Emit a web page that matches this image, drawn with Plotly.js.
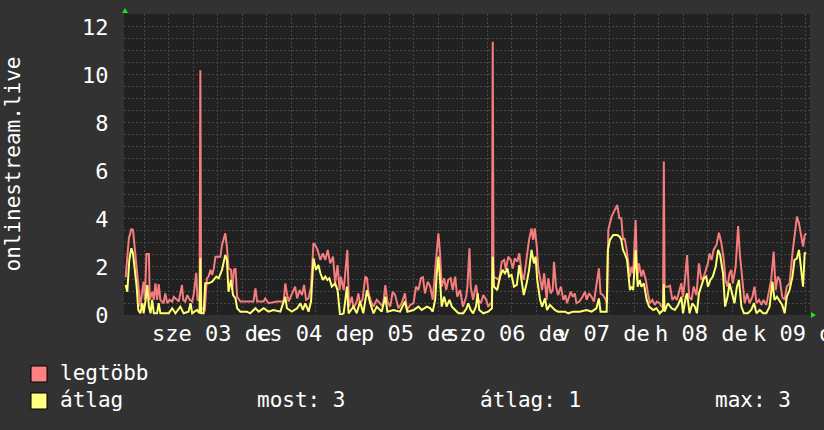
<!DOCTYPE html>
<html>
<head>
<meta charset="utf-8">
<script src="https://cdn.plot.ly/plotly-3.0.1.min.js"></script>
<style>
  html, body { margin: 0; padding: 0; background: #323232; }
  #chart { width: 824px; height: 430px; }
</style>
</head>
<body>
<div id="chart"></div>
<script>
// ---- data (hours since start of the 7-day window) ----
const maxHours = [
  0.4,1.2,1.8,2.2,2.6,3.1,3.6,4.0,4.5,4.8,
  5.1,5.5,6.1,6.3,6.9,7.3,7.7,8.1,8.5,8.9,
  9.7,10.1,10.6,11.2,11.8,12.2,13.0,13.4,13.8,14.2,
  14.5,15.0,15.5,16.1,16.7,17.1,17.7,18.0,18.5,18.7,
  18.9,19.8,20.3,20.7,21.2,21.6,22.0,22.4,23.6,24.0,
  24.8,25.2,25.6,26.2,26.5,26.9,27.3,27.7,28.5,31.7,
  32.2,32.6,34.2,34.6,35.4,37.5,39.1,39.5,39.9,40.3,
  41.9,42.4,43.0,43.6,44.1,44.6,45.2,45.8,46.4,46.8,
  47.4,48.1,48.7,49.3,49.9,50.5,51.2,51.7,52.3,52.8,
  53.1,53.8,54.4,54.7,55.1,55.8,56.2,57.0,57.4,57.8,
  58.4,59.1,59.5,59.9,60.5,61.1,61.9,62.7,63.4,64.0,
  64.5,65.2,65.8,66.4,67.2,68.0,68.8,69.3,70.1,70.9,
  71.5,72.1,72.7,73.2,73.7,74.4,75.0,75.6,76.2,76.6,
  77.0,77.4,77.8,78.4,78.9,79.4,80.0,80.5,81.1,81.6,
  82.3,83.0,83.8,84.1,84.6,84.9,85.5,86.2,86.8,87.4,
  88.0,88.7,89.2,89.8,90.1,90.3,90.5,91.4,91.9,92.5,
  93.1,93.5,94.1,94.7,95.2,95.7,96.3,96.8,97.4,97.9,
  98.6,99.2,99.8,100.2,100.6,101.1,101.4,101.9,102.4,102.9,
  103.5,103.9,104.5,105.0,105.3,105.8,106.3,107.0,107.6,108.1,
  108.5,109.4,109.9,110.4,110.8,111.5,112.3,112.9,113.3,113.9,
  114.5,115.1,115.7,116.3,116.7,117.3,117.8,118.3,118.6,119.4,
  120.2,120.8,121.3,121.8,122.2,122.6,123.1,123.5,123.9,124.3,
  124.7,125.3,125.7,126.1,126.7,127.1,127.8,128.3,128.8,129.4,
  130.0,130.5,131.2,131.6,132.0,132.2,132.4,133.2,133.7,134.3,
  134.9,135.4,135.9,136.5,136.9,137.3,137.9,138.4,139.0,139.5,
  140.2,140.8,141.4,142.0,142.5,143.0,143.4,143.9,144.4,145.1,
  145.7,146.3,146.9,147.3,147.8,148.3,148.7,149.1,149.8,150.4,
  150.8,151.4,152.0,152.6,153.2,153.9,154.4,154.9,155.5,156.1,
  156.6,157.3,157.9,158.5,159.1,159.6,160.1,160.6,161.2,161.8,
  162.3,163.0,163.7,164.2,164.8,165.3,165.7,166.3,166.7,167.1
];
const maxValues = [
  1.57,3.2,3.57,3.55,2.85,2.01,0.9,0.35,1.04,1.39,
  0.63,2.54,2.54,0.63,0.97,0.63,1.32,0.63,1.29,0.63,
  0.49,0.9,0.49,0.63,0.56,0.76,0.63,0.56,0.9,1.25,
  0.63,0.56,0.83,0.63,0.56,0.9,1.76,0.63,0.6,10.2,
  0.3,0.21,1.53,1.6,1.88,1.67,1.94,2.43,2.43,2.92,
  3.4,2.85,1.94,1.88,1.04,1.88,1.94,0.76,0.56,0.56,
  1.11,0.56,0.56,0.69,0.49,0.56,0.56,1.32,0.9,0.56,
  1.18,0.69,1.04,0.83,1.25,0.63,0.69,1.18,2.99,2.92,
  2.71,2.29,2.57,2.29,2.71,2.15,2.43,1.32,2.08,1.04,
  1.6,1.04,2.15,2.71,0.35,0.76,0.28,0.56,0.9,0.49,
  0.63,1.6,1.53,0.9,0.56,0.35,0.63,0.49,0.35,1.25,
  0.56,0.35,0.97,0.83,0.28,0.49,0.9,0.21,0.42,0.49,
  1.18,1.04,1.53,1.57,0.9,1.39,1.18,0.63,2.01,2.64,
  3.4,2.57,1.18,1.53,1.04,1.46,1.53,1.04,1.6,0.76,
  1.04,0.35,0.76,1.18,2.78,1.18,0.63,1.25,0.63,0.49,
  0.83,0.63,0.35,0.49,0.49,11.38,1.6,1.53,1.46,2.22,
  2.29,1.88,2.43,2.29,1.94,2.36,2.22,2.57,1.74,1.46,
  2.29,3.13,3.61,3.13,3.61,2.85,2.01,1.6,1.04,1.74,
  0.63,1.53,0.9,1.04,2.22,1.18,0.83,1.18,0.63,0.83,
  0.49,0.97,0.76,0.9,0.49,0.56,0.76,0.97,0.63,0.9,
  0.76,0.56,1.18,1.94,0.9,0.83,0.69,0.49,3.54,4.1,
  4.38,4.58,4.03,4.03,3.13,3.2,2.71,2.15,1.6,2.01,
  1.74,3.96,1.46,2.15,1.6,1.88,1.46,0.9,0.49,0.63,
  0.42,0.56,0.49,0.35,0.35,6.39,1.18,1.18,1.22,0.63,
  0.76,0.63,0.9,1.32,0.76,1.32,2.5,0.76,0.63,1.18,
  0.83,2.15,1.46,1.6,1.88,2.15,2.57,2.29,2.71,2.92,
  3.43,2.99,2.29,1.46,1.18,1.74,1.88,1.32,2.01,3.71,
  2.57,1.46,0.49,0.9,0.49,0.76,1.18,0.49,0.63,0.42,
  0.63,0.42,0.9,1.46,2.64,1.04,1.6,1.46,0.76,0.63,
  1.18,1.32,2.57,3.4,4.1,3.82,3.4,2.85,3.33,3.4
];
const avgHours = [
  0.4,0.8,1.3,1.8,2.2,2.6,3.1,3.5,4.0,4.5,
  4.8,5.3,5.7,6.1,6.5,6.9,7.3,8.1,8.5,8.9,
  11.0,11.8,12.6,13.8,14.6,15.8,16.3,16.7,17.9,18.5,
  18.7,18.9,19.5,19.9,20.7,21.6,22.6,23.2,24.0,24.8,
  25.2,25.6,26.2,26.7,27.3,27.7,28.5,30.1,30.9,32.2,
  33.0,34.2,35.4,36.6,38.3,39.5,39.9,41.1,42.4,43.2,
  43.8,44.4,45.2,45.8,46.4,47.0,47.6,48.1,48.7,49.3,
  49.8,50.3,50.9,51.7,52.3,52.9,53.8,54.6,55.0,56.2,
  57.0,57.8,58.6,59.5,60.3,61.1,61.9,63.1,64.0,64.5,
  66.0,67.6,68.8,69.4,70.9,72.1,72.9,74.2,75.0,75.6,
  76.2,76.6,77.0,77.4,77.8,78.4,79.0,79.7,80.3,81.1,
  81.9,83.1,83.9,84.3,84.9,85.5,86.2,86.6,87.0,88.0,
  89.2,90.1,90.3,90.6,91.4,92.1,92.7,93.3,93.9,94.3,
  94.9,95.5,96.2,96.8,97.4,97.9,98.6,99.2,99.8,100.4,
  100.8,101.2,101.9,102.4,103.1,103.6,104.3,105.0,105.5,106.3,
  108.0,108.8,110.0,111.6,113.3,114.5,115.7,116.3,116.7,118.2,
  118.5,119.0,119.8,120.8,121.4,121.8,122.2,122.6,123.2,123.9,
  124.3,124.7,125.3,125.8,126.3,126.7,127.3,128.0,128.6,129.6,
  130.4,131.2,132.0,132.2,132.4,133.2,134.1,134.9,135.7,136.5,
  136.9,137.6,137.9,138.5,139.2,139.8,140.3,140.8,141.4,142.0,
  142.6,143.0,143.6,144.2,144.9,145.5,146.0,146.7,147.2,147.8,
  148.3,149.0,149.5,150.1,150.6,151.2,151.8,152.8,153.6,154.3,
  154.9,155.7,156.5,157.3,158.1,158.8,159.3,159.9,160.6,161.2,
  161.8,162.3,163.0,163.7,164.2,164.8,165.3,165.7,166.3,166.7,
  167.1
];
const avgValues = [
  1.25,0.97,2.29,2.78,2.57,2.01,1.18,0.21,0.07,0.49,
  0.07,0.63,1.25,0.35,0.07,0.63,0.07,0.07,0.49,0.07,
  0.07,0.28,0.07,0.35,0.07,0.14,0.49,0.07,0.21,0.07,
  2.36,0.07,0.07,1.32,1.32,1.39,1.6,1.53,1.88,2.5,
  2.29,0.97,1.46,0.83,0.69,0.28,0.14,0.14,0.07,0.28,
  0.14,0.28,0.14,0.21,0.14,0.76,0.28,0.14,0.28,0.49,
  0.21,0.49,0.14,0.56,2.36,1.88,2.08,1.74,1.46,1.6,
  1.46,1.53,1.18,1.32,1.04,0.0,0.07,1.18,0.07,0.35,
  0.07,0.56,0.07,1.04,0.49,0.07,0.35,0.14,0.76,0.14,
  0.21,0.14,0.56,0.14,0.21,0.35,0.21,0.35,0.28,0.14,
  0.63,1.74,2.43,1.46,0.35,0.76,0.35,0.63,0.35,0.21,
  0.07,0.07,0.28,0.49,0.21,0.07,0.35,0.9,0.21,0.07,
  0.14,0.28,2.43,1.18,1.04,1.6,1.88,1.74,1.94,1.6,
  1.67,1.18,1.25,2.08,1.46,0.83,1.32,1.88,2.71,2.15,
  2.43,1.46,0.63,0.35,0.69,0.21,0.42,0.28,0.21,0.14,
  0.14,0.07,0.14,0.14,0.21,0.14,0.28,0.69,0.14,0.14,
  2.71,3.13,3.33,3.33,3.26,3.13,2.71,2.57,2.29,1.04,
  1.18,1.04,2.71,1.18,1.46,1.18,1.32,0.63,0.35,0.21,
  0.28,0.07,0.21,1.29,0.14,0.49,0.28,0.21,0.42,0.76,
  0.07,0.76,0.9,0.07,0.49,0.35,0.07,0.9,1.18,1.53,
  1.6,1.18,1.46,1.6,2.01,2.71,2.5,1.74,0.35,0.76,
  1.32,0.76,0.49,1.18,1.46,0.35,0.07,0.07,0.21,0.49,
  0.07,0.21,0.07,0.07,0.35,1.39,0.63,0.76,0.56,0.42,
  0.07,0.76,1.04,1.6,2.29,2.36,2.71,2.01,1.18,2.57,
  2.57
];

const seriesNames = ['legtöbb', 'átlag'];
const seriesColors = ['#ff8080', '#ffff80'];
const statLabels = ['most: 3', 'átlag: 1', 'max: 3'];
const yTickValues = [0, 2, 4, 6, 8, 10, 12];
const yTickText = ['0', '2', '4', '6', '8', '10', '12'];
const dayBoundaryHours = [11, 35, 59, 83, 107, 131, 155];
const dayLabels = ['sze 03 de', 'cs 04 de', 'p 05 de', 'szo 06 de', 'v 07 de', 'h 08 de', 'k 09 de'];
const yAxisTitle = 'onlinestream.live';

// ---- styling ----
const FONT = 'DejaVu Sans Mono, monospace';
const MAJOR_GRID = '#5c3d3d';
const MINOR_GRID = '#484848';
const labelOffsetHours = 10.4;

const traces = [
  { x: maxHours, y: maxValues, type: 'scatter', mode: 'lines',
    line: { color: '#f57d7d', width: 2 }, name: seriesNames[0], hoverinfo: 'skip' },
  { x: avgHours, y: avgValues, type: 'scatter', mode: 'lines',
    line: { color: '#ffff72', width: 2 }, name: seriesNames[1], hoverinfo: 'skip' }
];

const annotations = [];
dayLabels.forEach((t, i) => {
  annotations.push({
    x: dayBoundaryHours[i] + labelOffsetHours, xref: 'x',
    y: 0, yref: 'paper', yanchor: 'middle', xanchor: 'center', yshift: -18,
    text: t, showarrow: false, font: { family: FONT, size: 22, color: '#ffffff' }
  });
});
annotations.push({
  x: 0, xref: 'paper', xshift: -112, xanchor: 'center',
  y: 0.5, yref: 'paper', yanchor: 'middle',
  text: yAxisTitle, textangle: -90, showarrow: false,
  font: { family: FONT, size: 21, color: '#ffffff' }
});
// legend text
seriesNames.forEach((n, i) => {
  annotations.push({
    x: 0, xref: 'paper', xshift: -66, xanchor: 'left',
    y: 0, yref: 'paper', yshift: i === 0 ? -58 : -85, yanchor: 'middle',
    text: n, showarrow: false, font: { family: FONT, size: 21, color: '#ffffff' }
  });
});
const statX = [131, 354, 589];
statLabels.forEach((s, i) => {
  annotations.push({
    x: 0, xref: 'paper', xshift: statX[i], xanchor: 'left',
    y: 0, yref: 'paper', yshift: -85, yanchor: 'middle',
    text: s, showarrow: false, font: { family: FONT, size: 21, color: '#ffffff' }
  });
});

const shapes = [];
seriesColors.forEach((c, i) => {
  const top = i === 0 ? -51 : -78;
  shapes.push({
    type: 'rect', xref: 'paper', yref: 'paper',
    xsizemode: 'pixel', ysizemode: 'pixel', xanchor: 0, yanchor: 0,
    x0: -93, x1: -77, y0: top, y1: top - 16,
    fillcolor: c, line: { color: '#000000', width: 1 }
  });
});
// axis arrows
shapes.push({
  type: 'path', xref: 'paper', yref: 'paper', xsizemode: 'pixel', ysizemode: 'pixel',
  xanchor: 0, yanchor: 1, path: 'M-2,1 L4,1 L1,6 Z',
  fillcolor: '#1ee01e', line: { width: 0 }
});
shapes.push({
  type: 'path', xref: 'paper', yref: 'paper', xsizemode: 'pixel', ysizemode: 'pixel',
  xanchor: 1, yanchor: 0, path: 'M1,-3 L1,3 L6,0 Z',
  fillcolor: '#1ee01e', line: { width: 0 }
});

const layout = {
  width: 824, height: 430,
  margin: { l: 124, r: 14, t: 14, b: 115, pad: 0 },
  paper_bgcolor: '#323232',
  plot_bgcolor: '#212121',
  showlegend: false,
  font: { family: FONT, color: '#ffffff', size: 22 },
  xaxis: {
    range: [0, 168], fixedrange: true,
    tickmode: 'array', tickvals: dayBoundaryHours, showticklabels: false,
    ticks: '', showgrid: true, gridcolor: MAJOR_GRID, gridwidth: 1, griddash: '2px,2px',
    zeroline: false, showline: false,
    minor: { tick0: 5, dtick: 6, showgrid: true, gridcolor: MINOR_GRID, gridwidth: 1, griddash: '2px,2px', ticks: '' }
  },
  yaxis: {
    range: [0, 12.54], fixedrange: true,
    tickmode: 'array', tickvals: yTickValues, ticktext: yTickText,
    ticks: 'outside', ticklen: 10, tickcolor: 'rgba(0,0,0,0)',
    tickfont: { family: FONT, size: 22, color: '#ffffff' },
    showgrid: true, gridcolor: MAJOR_GRID, gridwidth: 1, griddash: '2px,2px',
    zeroline: false, showline: false,
    minor: { dtick: 0.5, showgrid: true, gridcolor: MINOR_GRID, gridwidth: 1, griddash: '2px,2px', ticks: '' }
  },
  annotations: annotations,
  shapes: shapes
};

Plotly.newPlot('chart', traces, layout, { staticPlot: true, displayModeBar: false });
</script>
</body>
</html>
